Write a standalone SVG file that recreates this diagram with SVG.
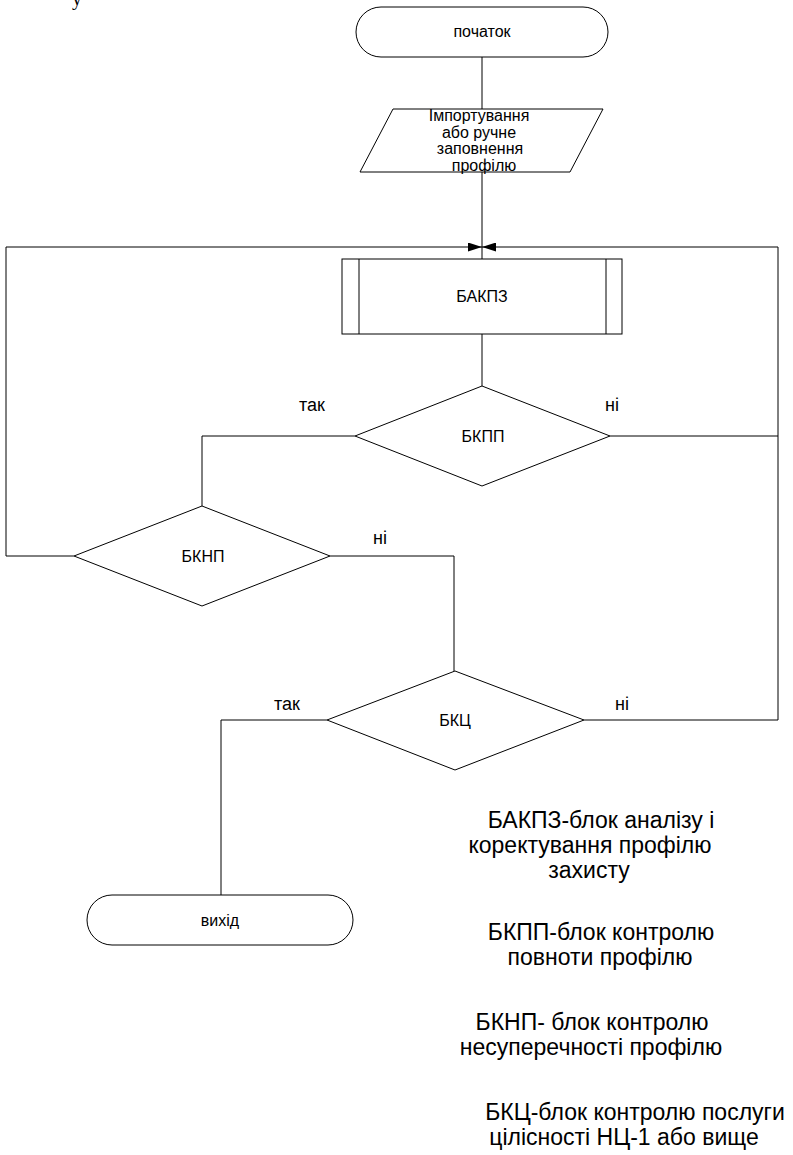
<svg xmlns="http://www.w3.org/2000/svg" width="793" height="1155" viewBox="0 0 793 1155">
<style>
.shape{fill:#fff;stroke:#000;stroke-width:1}
.conn{fill:none;stroke:#000;stroke-width:1}
.t{font-family:"Liberation Sans",Arial,sans-serif;font-size:16px;text-anchor:middle;fill:#000}
.lbl{font-size:18px}
.leg{font-size:23px}
</style>
<defs>
<marker id="arr" markerUnits="userSpaceOnUse" markerWidth="15" markerHeight="9" refX="14" refY="4.5" orient="auto">
<path d="M0,0 L14,4.5 L0,9 Z" fill="#000"/>
</marker>
</defs>
<rect width="793" height="1155" fill="#fff"/>
<text x="72" y="5" style="font-family:'Liberation Serif','Times New Roman',serif;font-size:20px" fill="#000">у</text>
<g id="connectors">
<path class="conn" d="M482,57 V109"/>
<path class="conn" d="M482,172 V259"/>
<path class="conn" d="M482,334 V386"/>
<path class="conn" d="M355,436 H202 V506"/>
<path class="conn" d="M610,436 H778"/>
<path class="conn" d="M74,556 H6 V247 H482" marker-end="url(#arr)"/>
<path class="conn" d="M330,556 H454 V671"/>
<path class="conn" d="M327,720 H221 V895"/>
<path class="conn" d="M584,720 H778 V247 H482" marker-end="url(#arr)"/>
<text class="t lbl" x="312" y="411">так</text>
<text class="t lbl" x="612" y="411">ні</text>
<text class="t lbl" x="380" y="544">ні</text>
<text class="t lbl" x="287" y="710">так</text>
<text class="t lbl" x="622" y="710">ні</text>
</g>
<g id="start">
<rect class="shape" x="356" y="7" width="252" height="50" rx="25" ry="25"/>
<text class="t" x="482" y="37">початок</text>
</g>
<g id="input">
<polygon class="shape" points="393,109 603,109 570,172 360,172"/>
<text class="t" x="479" y="121">Імпортування</text>
<text class="t" x="479" y="138">або ручне</text>
<text class="t" x="480" y="154">заповнення</text>
<text class="t" x="484" y="171">профілю</text>
</g>
<g id="bakpz">
<rect class="shape" x="342" y="259" width="280" height="75"/>
<path class="conn" d="M359,259 V334 M606,259 V334"/>
<text class="t" x="482" y="302">БАКПЗ</text>
</g>
<g id="bkpp">
<polygon class="shape" points="482,386 610,436 482,486 355,436"/>
<text class="t" x="483" y="442">БКПП</text>
</g>
<g id="bknp">
<polygon class="shape" points="202,506 330,556 202,606 74,556"/>
<text class="t" x="203" y="562">БКНП</text>
</g>
<g id="bkc">
<polygon class="shape" points="455,671 584,720 455,770 327,720"/>
<text class="t" x="455" y="726">БКЦ</text>
</g>
<g id="end">
<rect class="shape" x="87" y="895" width="266" height="50" rx="25" ry="25"/>
<text class="t" x="220" y="926">вихід</text>
</g>
<g id="legend">
<text class="t leg" x="601" y="828">БАКПЗ-блок аналізу і</text>
<text class="t leg" x="590" y="853">коректування профілю</text>
<text class="t leg" x="589" y="878">захисту</text>
<text class="t leg" x="601" y="940">БКПП-блок контролю</text>
<text class="t leg" x="600" y="965">повноти профілю</text>
<text class="t leg" x="592" y="1030">БКНП- блок контролю</text>
<text class="t leg" x="591" y="1055">несуперечності профілю</text>
<text class="t leg" x="635" y="1120">БКЦ-блок контролю послуги</text>
<text class="t leg" x="624" y="1145">цілісності НЦ-1 або вище</text>
</g>
</svg>
